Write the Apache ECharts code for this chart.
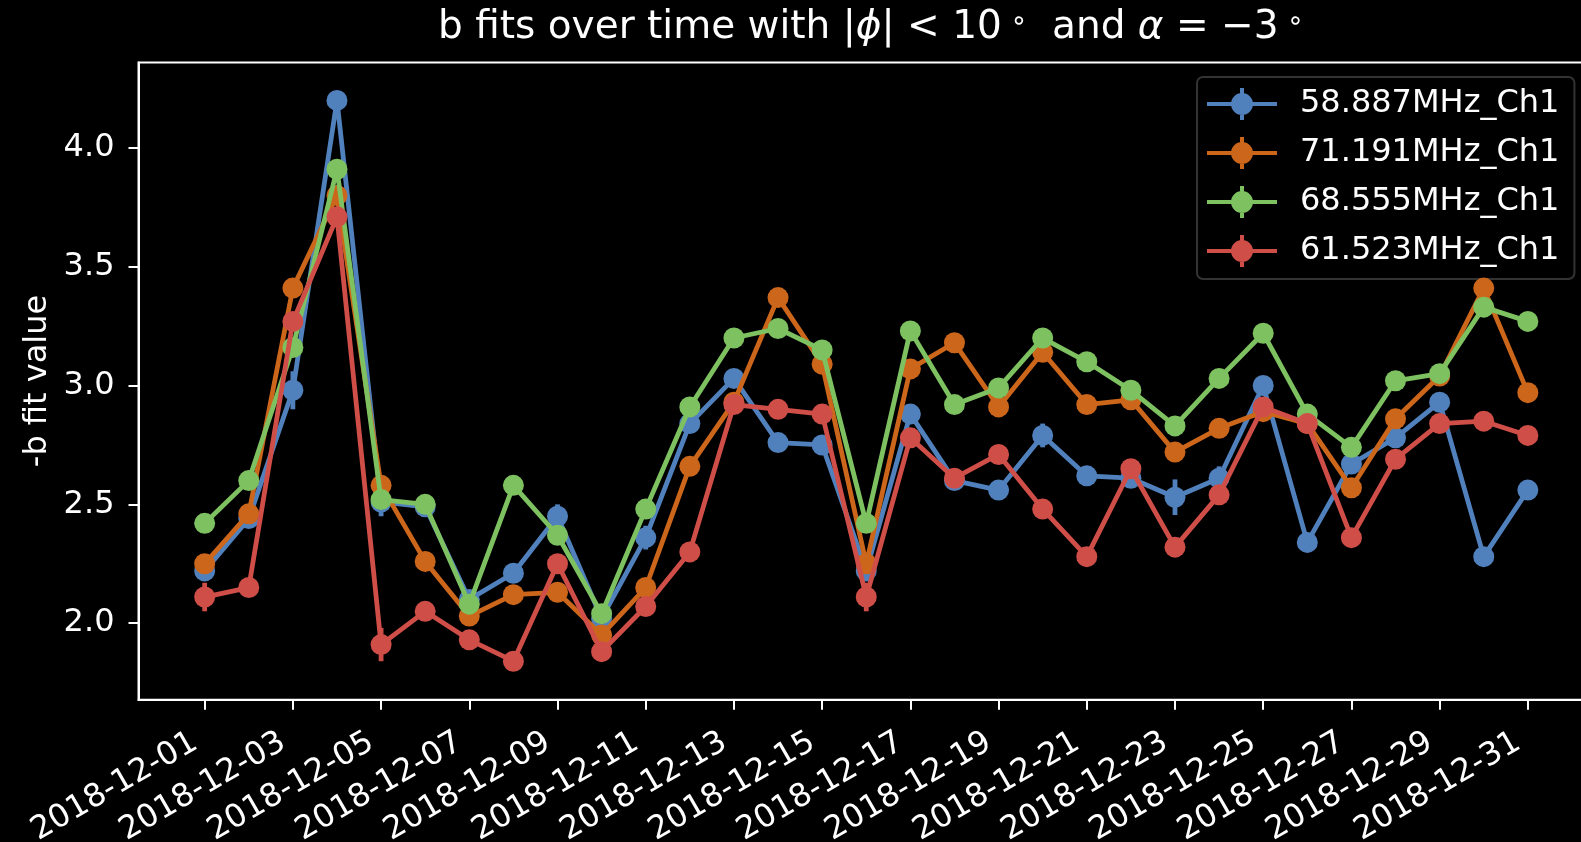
<!DOCTYPE html>
<html><head><meta charset="utf-8">
<script src="https://cdn.jsdelivr.net/npm/echarts@6/dist/echarts.min.js"></script>
<style>html,body{margin:0;padding:0;background:#000}#c{width:1581px;height:842px}</style>
</head><body><div id="c"></div>
<script>
const dates = ['2018-12-01','2018-12-02','2018-12-03','2018-12-04','2018-12-05','2018-12-06','2018-12-07','2018-12-08','2018-12-09','2018-12-10',
  '2018-12-11','2018-12-12','2018-12-13','2018-12-14','2018-12-15','2018-12-16','2018-12-17','2018-12-18','2018-12-19','2018-12-20',
  '2018-12-21','2018-12-22','2018-12-23','2018-12-24','2018-12-25','2018-12-26','2018-12-27','2018-12-28','2018-12-29','2018-12-30','2018-12-31'];
const xTickIdx = [0,2,4,6,8,10,12,14,16,18,20,22,24,26,28,30];
const yTicks = [2.0,2.5,3.0,3.5,4.0];
const names = ['58.887MHz_Ch1','71.191MHz_Ch1','68.555MHz_Ch1','61.523MHz_Ch1'];
const colors = ['#5081bd','#cc661b','#7dc160','#d04e48'];

const v58887 = [2.22,2.44,2.98,4.20,2.51,2.49,2.10,2.21,2.45,2.02,2.36,2.84,3.03,2.76,2.75,2.22,2.88,2.60,2.56,2.79,2.62,2.61,2.53,2.61,3.00,2.34,2.67,2.78,2.93,2.28,2.56];
const e58887 = [0.04,0.03,0.08,0.035,0.06,0.03,0.03,0.04,0.05,0.03,0.05,0.03,0.03,0.03,0.03,0.04,0.03,0.03,0.04,0.05,0.03,0.03,0.075,0.05,0.04,0.04,0.03,0.03,0.03,0.04,0.03];
const v71191 = [2.25,2.46,3.41,3.80,2.58,2.26,2.03,2.12,2.13,1.95,2.15,2.66,2.93,3.37,3.09,2.25,3.07,3.18,2.91,3.14,2.92,2.94,2.72,2.82,2.89,2.84,2.57,2.86,3.04,3.41,2.97];
const e71191 = [0.03,0.03,0.03,0.03,0.03,0.03,0.03,0.03,0.03,0.03,0.03,0.03,0.03,0.03,0.03,0.03,0.03,0.03,0.03,0.03,0.03,0.03,0.03,0.03,0.03,0.03,0.03,0.03,0.03,0.03,0.03];
const v68555 = [2.42,2.60,3.16,3.91,2.52,2.50,2.08,2.58,2.37,2.04,2.48,2.91,3.20,3.24,3.15,2.42,3.23,2.92,2.99,3.20,3.10,2.98,2.83,3.03,3.22,2.88,2.74,3.02,3.05,3.33,3.27];
const e68555 = [0.03,0.02,0.03,0.03,0.03,0.02,0.02,0.02,0.03,0.02,0.03,0.02,0.02,0.02,0.02,0.03,0.02,0.02,0.02,0.02,0.02,0.02,0.02,0.02,0.02,0.02,0.02,0.02,0.02,0.02,0.02];
const v61523 = [2.11,2.15,3.27,3.71,1.91,2.05,1.93,1.84,2.25,1.88,2.07,2.30,2.92,2.90,2.88,2.11,2.78,2.61,2.71,2.48,2.28,2.65,2.32,2.54,2.91,2.84,2.36,2.69,2.84,2.85,2.79];
const e61523 = [0.06,0.03,0.03,0.03,0.07,0.03,0.04,0.04,0.03,0.03,0.03,0.03,0.03,0.03,0.03,0.06,0.03,0.03,0.03,0.03,0.03,0.03,0.04,0.03,0.03,0.03,0.03,0.03,0.03,0.03,0.03];

const values = [v58887, v71191, v68555, v61523];
const errors = [e58887, e71191, e68555, e61523];
const FONT = 'DejaVu Sans';

const chart = echarts.init(document.getElementById('c'), null, {renderer: 'canvas'});

function errRender(color) {
  return function (params, api) {
    const x = api.value(0), y = api.value(1), e = api.value(2);
    const p1 = api.coord([x, y - e]);
    const p2 = api.coord([x, y + e]);
    return {type: 'line', shape: {x1: p1[0], y1: p1[1], x2: p2[0], y2: p2[1]},
            style: {stroke: color, lineWidth: 4.8}};
  };
}

const series = [];
names.forEach(function (nm, k) {
  series.push({
    type: 'custom', renderItem: errRender(colors[k]), z: 10 + k * 2,
    encode: {x: 0, y: 1}, silent: true, clip: false,
    data: values[k].map(function (v, i) { return [i, v, errors[k][i]]; })
  });
  series.push({
    type: 'line', name: nm, z: 10 + k * 2,
    data: values[k].map(function (v, i) { return [i, v]; }),
    symbol: 'circle', symbolSize: 21, showSymbol: true,
    lineStyle: {color: colors[k], width: 4.8},
    itemStyle: {color: colors[k], borderWidth: 0},
    emphasis: {disabled: true}, silent: true
  });
});

const legendIcon = 'path://M0,14 L70,14 L70,18 L0,18 Z M33,0 L37,0 L37,32 L33,32 Z M24,16 A11,11 0 1 1 46,16 A11,11 0 1 1 24,16 Z';

chart.setOption({
  backgroundColor: '#000',
  animation: false,
  color: colors,
  title: {
    text: 'b fits over time with |{i|ϕ}| < 10{s| ∘}  and {i|α} = −3{s| ∘}',
    left: 866, top: 3, textAlign: 'center',
    textStyle: {color: '#fff', fontFamily: FONT, fontSize: 39, fontWeight: 'normal',
      rich: {
        i: {fontStyle: 'italic', fontFamily: FONT, fontSize: 39, color: '#fff'},
        s: {fontSize: 27, fontFamily: FONT, color: '#fff', verticalAlign: 'top'}
      }}
  },
  legend: {
    data: names, orient: 'vertical', left: 1197, top: 77,
    icon: legendIcon, itemWidth: 70, itemHeight: 32, itemGap: 17,
    padding: [11, 15, 12, 10],
    backgroundColor: 'rgba(0,0,0,0.8)', borderColor: '#333', borderWidth: 2, borderRadius: 6,
    textStyle: {color: '#fff', fontFamily: FONT, fontSize: 32, padding: [0, 0, 0, 18]},
    selectedMode: false
  },
  grid: {left: 138.5, top: 62.6, width: 1455.5, height: 637.1, show: true,
         outerBoundsMode: 'none', containLabel: false,
         borderColor: '#fff', borderWidth: 2, backgroundColor: 'transparent'},
  xAxis: {
    type: 'value', min: -1.5, max: 31.5,
    axisLine: {show: true, onZero: false, lineStyle: {color: '#fff', width: 2}},
    axisTick: {show: true, length: 10, lineStyle: {color: '#fff', width: 2}, customValues: xTickIdx},
    axisLabel: {show: true, customValues: xTickIdx, rotate: 30, margin: 35,
      color: '#fff', fontFamily: FONT, fontSize: 32,
      formatter: function (v) { return (dates[Math.round(v)] || '') + '{p|\u00a0}'; },
      rich: {p: {width: 11, fontSize: 32, fontFamily: FONT}}},
    splitLine: {show: false}
  },
  yAxis: {
    type: 'value', min: 1.678, max: 4.359,
    axisLine: {show: true, onZero: false, lineStyle: {color: '#fff', width: 2}},
    axisTick: {show: true, length: 10, lineStyle: {color: '#fff', width: 2}, customValues: yTicks},
    axisLabel: {show: true, customValues: yTicks, margin: 24, color: '#fff', fontFamily: FONT, fontSize: 32,
      formatter: function (v) { return v.toFixed(1); }},
    splitLine: {show: false}
  },
  graphic: [{
    type: 'text', x: 37.5, y: 381, rotation: Math.PI / 2,
    style: {text: '-b fit value', fill: '#fff', font: '32px "DejaVu Sans"', textAlign: 'center', textVerticalAlign: 'middle'}
  }],
  series: series
});
</script>
</body></html>
